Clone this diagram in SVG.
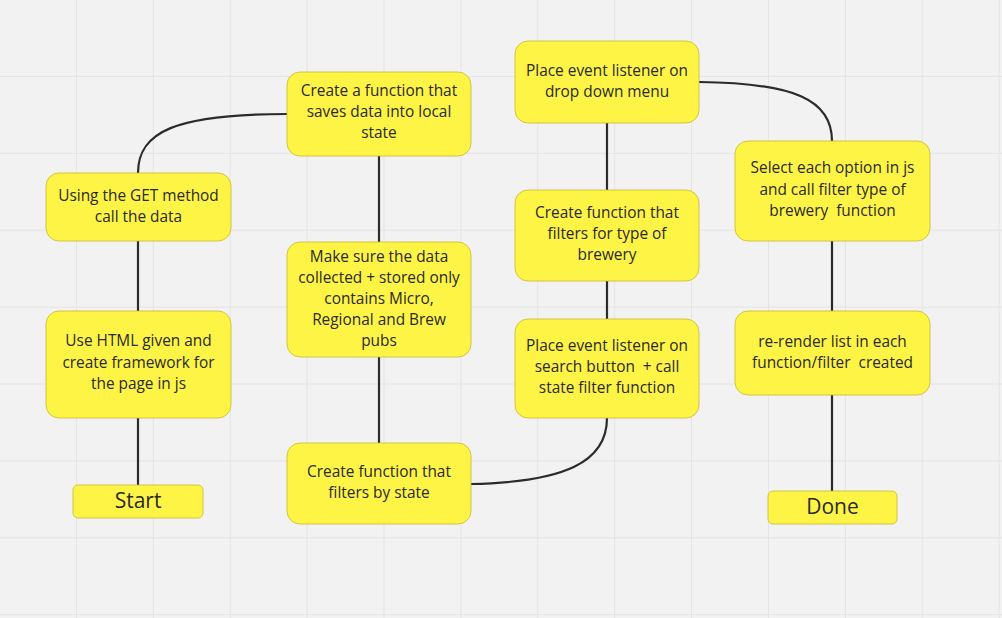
<svg xmlns="http://www.w3.org/2000/svg" width="1002" height="618" viewBox="0 0 1002 618" xml:space="preserve">
<defs>
<pattern id="grid" x="0" y="0" width="76.9" height="76.9" patternUnits="userSpaceOnUse">
<path d="M76.4 0V76.9M0 76.4H76.9" fill="none" stroke="#e4e4e4" stroke-width="1"/>
</pattern>
</defs>
<style>
.n{fill:#fef445;stroke:#c9b92e;stroke-width:0.8}
.t{font-family:"Open Sans","Noto Sans",sans-serif;font-size:15.4px;fill:#2a2a2a;text-anchor:middle;white-space:pre}
.b{font-size:21px}
.c{fill:none;stroke:#2b2b2b;stroke-width:2.2}
</style>
<rect width="1002" height="618" fill="#f2f2f2"/>
<rect width="1002" height="618" fill="url(#grid)"/>
<g id="connectors">
<path class="c" d="M138 485V418"/>
<path class="c" d="M138 311V241"/>
<path class="c" d="M138 173C138 132 175 114 287 114"/>
<path class="c" d="M379 156V242"/>
<path class="c" d="M379 357V443"/>
<path class="c" d="M471 484C565 482 607 462 607 418"/>
<path class="c" d="M607 319V281"/>
<path class="c" d="M607 190V123"/>
<path class="c" d="M699 82C795 83 832 100 832 141"/>
<path class="c" d="M832 241V311"/>
<path class="c" d="M832 395V491"/>
</g>
<g id="n1"><rect class="n" x="46" y="173" width="185" height="68" rx="13"/>
<text class="t" x="138.5" y="201">Using the GET method</text><text class="t" x="138.5" y="222">call the data</text></g>
<g id="n2"><rect class="n" x="46" y="311" width="185" height="107" rx="13"/>
<text class="t" x="138.5" y="346">Use HTML given and</text><text class="t" x="138.5" y="368">create framework for</text><text class="t" x="138.5" y="389">the page in js</text></g>
<g id="start"><rect class="n" x="73" y="485" width="130" height="33" rx="5"/>
<text class="t b" x="138" y="508">Start</text></g>
<g id="n4"><rect class="n" x="287" y="72" width="184" height="84" rx="13"/>
<text class="t" x="379" y="96">Create a function that</text><text class="t" x="379" y="117">saves data into local</text><text class="t" x="379" y="138">state</text></g>
<g id="n5"><rect class="n" x="287" y="242" width="184" height="115" rx="13"/>
<text class="t" x="379" y="262">Make sure the data</text><text class="t" x="379" y="283">collected + stored only</text><text class="t" x="379" y="304">contains Micro,</text><text class="t" x="379" y="325">Regional and Brew</text><text class="t" x="379" y="346">pubs</text></g>
<g id="n6"><rect class="n" x="287" y="443" width="184" height="81" rx="13"/>
<text class="t" x="379" y="477">Create function that</text><text class="t" x="379" y="498">filters by state</text></g>
<g id="n7"><rect class="n" x="515" y="41" width="184" height="82" rx="13"/>
<text class="t" x="607" y="76">Place event listener on</text><text class="t" x="607" y="97">drop down menu</text></g>
<g id="n8"><rect class="n" x="515" y="190" width="184" height="91" rx="13"/>
<text class="t" x="607" y="218">Create function that</text><text class="t" x="607" y="239">filters for type of</text><text class="t" x="607" y="260">brewery</text></g>
<g id="n9"><rect class="n" x="515" y="319" width="184" height="99" rx="13"/>
<text class="t" x="607" y="351">Place event listener on</text><text class="t" x="607" y="372">search button  + call</text><text class="t" x="607" y="393">state filter function</text></g>
<g id="n10"><rect class="n" x="735" y="141" width="195" height="100" rx="13"/>
<text class="t" x="832.5" y="173">Select each option in js</text><text class="t" x="832.5" y="195">and call filter type of</text><text class="t" x="832.5" y="216">brewery  function</text></g>
<g id="n11"><rect class="n" x="735" y="311" width="195" height="84" rx="13"/>
<text class="t" x="832.5" y="347">re-render list in each</text><text class="t" x="832.5" y="368">function/filter  created</text></g>
<g id="done"><rect class="n" x="768" y="491" width="129" height="33" rx="5"/>
<text class="t b" x="832.5" y="514">Done</text></g>
</svg>
